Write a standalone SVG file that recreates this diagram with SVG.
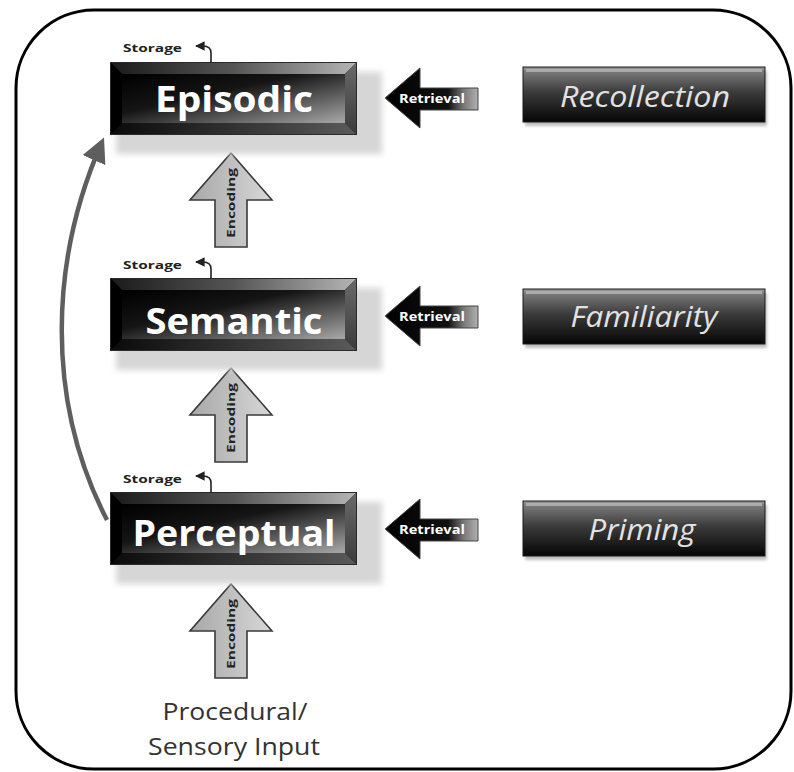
<svg xmlns="http://www.w3.org/2000/svg" xmlns:xlink="http://www.w3.org/1999/xlink" width="794" height="772" viewBox="0 0 794 772">
<style>
.title{font-family:"Open Sans","Liberation Sans",sans-serif;font-weight:700;font-size:35px;fill:#ffffff;text-anchor:middle}
.result{font-family:"Open Sans","Liberation Sans",sans-serif;font-style:italic;font-size:29px;fill:#e2e2e2;text-anchor:middle}
.small{font-family:"Open Sans","Liberation Sans",sans-serif;font-weight:700;font-size:11px;fill:#222}
.ret{font-family:"Open Sans","Liberation Sans",sans-serif;font-weight:700;font-size:12px;fill:#fff;text-anchor:middle}
.enc{font-family:"Open Sans","Liberation Sans",sans-serif;font-weight:700;font-size:11px;fill:#222;text-anchor:middle}
.input{font-family:"Open Sans","Liberation Sans",sans-serif;font-size:23px;fill:#333;text-anchor:middle}
.curve{fill:none;stroke:#5e5e5e;stroke-width:4.5}
.stor{fill:none;stroke:#222;stroke-width:1.6}
</style>
<defs>
<filter id="blur" x="-20%" y="-30%" width="140%" height="160%"><feGaussianBlur stdDeviation="3"/></filter>
<filter id="blur2" x="-10%" y="-30%" width="120%" height="160%"><feGaussianBlur stdDeviation="1.5"/></filter>
<linearGradient id="bevTop" x1="0" y1="0" x2="1" y2="0"><stop offset="0" stop-color="#1a1a1a"/><stop offset="0.5" stop-color="#555"/><stop offset="1" stop-color="#b5b5b5"/></linearGradient>
<linearGradient id="bevBot" x1="0" y1="0" x2="1" y2="0"><stop offset="0" stop-color="#0a0a0a"/><stop offset="1" stop-color="#5a5a5a"/></linearGradient>
<linearGradient id="bevRight" x1="0" y1="0" x2="0" y2="1"><stop offset="0" stop-color="#6a6a6a"/><stop offset="1" stop-color="#3a3a3a"/></linearGradient>
<linearGradient id="face" x1="0" y1="0" x2="1" y2="1"><stop offset="0" stop-color="#000"/><stop offset="0.4" stop-color="#151515"/><stop offset="1" stop-color="#a8a8a8"/></linearGradient>
<linearGradient id="gloss" x1="0" y1="0" x2="0" y2="1"><stop offset="0" stop-color="#9a9a9a"/><stop offset="0.08" stop-color="#7a7a7a"/><stop offset="0.45" stop-color="#3c3c3c"/><stop offset="1" stop-color="#050505"/></linearGradient>
<linearGradient id="retGrad" x1="0" y1="0" x2="1" y2="0"><stop offset="0" stop-color="#000"/><stop offset="0.68" stop-color="#111"/><stop offset="0.85" stop-color="#7a7a7a"/><stop offset="1" stop-color="#b0b0b0"/></linearGradient>
<linearGradient id="encGrad" x1="0" y1="0" x2="1" y2="0"><stop offset="0" stop-color="#a8a8a8"/><stop offset="0.6" stop-color="#c4c4c4"/><stop offset="1" stop-color="#d8d8d8"/></linearGradient>
<marker id="curveHead" viewBox="0 0 10 10" refX="8" refY="5" markerWidth="5.5" markerHeight="5.5" orient="auto" markerUnits="strokeWidth"><path d="M0,0 L10,5 L0,10 z" fill="#5e5e5e"/></marker>
<marker id="storHead" viewBox="0 0 10 10" refX="9" refY="5" markerWidth="6" markerHeight="6" orient="auto" markerUnits="strokeWidth"><path d="M0,0 L10,5 L0,10 z" fill="#222"/></marker>
<g id="bevelBox">
<rect x="6" y="10" width="266" height="82" fill="#d6d6d6" filter="url(#blur)"/>
<rect x="0" y="0" width="247" height="73" fill="#0a0a0a"/>
<polygon points="0,0 247,0 235,12 12,12" fill="url(#bevTop)"/>
<polygon points="247,0 247,73 235,61 235,12" fill="url(#bevRight)"/>
<polygon points="0,73 247,73 235,61 12,61" fill="url(#bevBot)"/>
<polygon points="0,0 12,12 12,61 0,73" fill="#000"/>
<rect x="12" y="12" width="223" height="49" fill="url(#face)"/>
<rect x="0.5" y="0.5" width="246" height="72" fill="none" stroke="#2a2a2a"/>
</g>
<g id="glossBox">
<rect x="2" y="4" width="242" height="55" fill="#bdbdbd" filter="url(#blur2)"/>
<rect x="0" y="0" width="242" height="55" fill="url(#gloss)" stroke="#1a1a1a"/>
<rect x="3" y="2" width="236" height="3" fill="#c8c8c8" opacity="0.6"/>
</g>
<g id="retrieval">
<polygon points="0,0 35,-30 35,-10 93,-10 93,12 35,12 35,30" fill="url(#retGrad)" stroke="#444" stroke-width="1"/>
<text class="ret" x="47" y="5" textLength="66" lengthAdjust="spacingAndGlyphs">Retrieval</text>
</g>
<g id="encoding">
<polygon points="0,0 41,47 16,47 16,94 -16,94 -16,47 -41,47" fill="url(#encGrad)" stroke="#3a3a3a" stroke-width="1.6" stroke-linejoin="miter"/>
<text class="enc" transform="translate(0,50) rotate(-90)" y="4" textLength="70" lengthAdjust="spacingAndGlyphs">Encoding</text>
</g>
</defs>
<rect x="16" y="10" width="775" height="759" rx="78" ry="78" fill="#fff" stroke="#000" stroke-width="3"/>
<g id="connectors">
<path class="curve" d="M107,520 C45,400 50,260 102,142" marker-end="url(#curveHead)"/>
<use xlink:href="#encoding" transform="translate(231,153)"/>
<use xlink:href="#encoding" transform="translate(231,368)"/>
<use xlink:href="#encoding" transform="translate(231,584)"/>
<use xlink:href="#retrieval" transform="translate(385,98)"/>
<use xlink:href="#retrieval" transform="translate(385,316)"/>
<use xlink:href="#retrieval" transform="translate(385,529)"/>
</g>
<g id="episodic">
<use xlink:href="#bevelBox" transform="translate(110,62)"/>
<text class="title" x="234" y="112" textLength="158" lengthAdjust="spacingAndGlyphs">Episodic</text>
<text class="small" x="123" y="52" textLength="59" lengthAdjust="spacingAndGlyphs">Storage</text>
<path class="stor" d="M211,62 L211,53 Q211,46 203,46 L196,46" marker-end="url(#storHead)"/>
</g>
<g id="semantic">
<use xlink:href="#bevelBox" transform="translate(110,278)"/>
<text class="title" x="234" y="334" textLength="177" lengthAdjust="spacingAndGlyphs">Semantic</text>
<text class="small" x="123" y="269" textLength="59" lengthAdjust="spacingAndGlyphs">Storage</text>
<path class="stor" d="M211,278 L211,269 Q211,262 203,262 L196,262" marker-end="url(#storHead)"/>
</g>
<g id="perceptual">
<use xlink:href="#bevelBox" transform="translate(110,492)"/>
<text class="title" x="234" y="546" textLength="203" lengthAdjust="spacingAndGlyphs">Perceptual</text>
<text class="small" x="123" y="483" textLength="59" lengthAdjust="spacingAndGlyphs">Storage</text>
<path class="stor" d="M211,492 L211,483 Q211,476 203,476 L196,476" marker-end="url(#storHead)"/>
</g>
<g id="recollection">
<use xlink:href="#glossBox" transform="translate(523,67)"/>
<text class="result" x="645" y="107" textLength="170" lengthAdjust="spacingAndGlyphs">Recollection</text>
</g>
<g id="familiarity">
<use xlink:href="#glossBox" transform="translate(523,289)"/>
<text class="result" x="644" y="327" textLength="147" lengthAdjust="spacingAndGlyphs">Familiarity</text>
</g>
<g id="priming">
<use xlink:href="#glossBox" transform="translate(523,501)"/>
<text class="result" x="642" y="540" textLength="107" lengthAdjust="spacingAndGlyphs">Priming</text>
</g>
<g id="input">
<text class="input" x="235" y="720" textLength="145" lengthAdjust="spacingAndGlyphs">Procedural/</text>
<text class="input" x="234" y="755" textLength="172" lengthAdjust="spacingAndGlyphs">Sensory Input</text>
</g>
</svg>
